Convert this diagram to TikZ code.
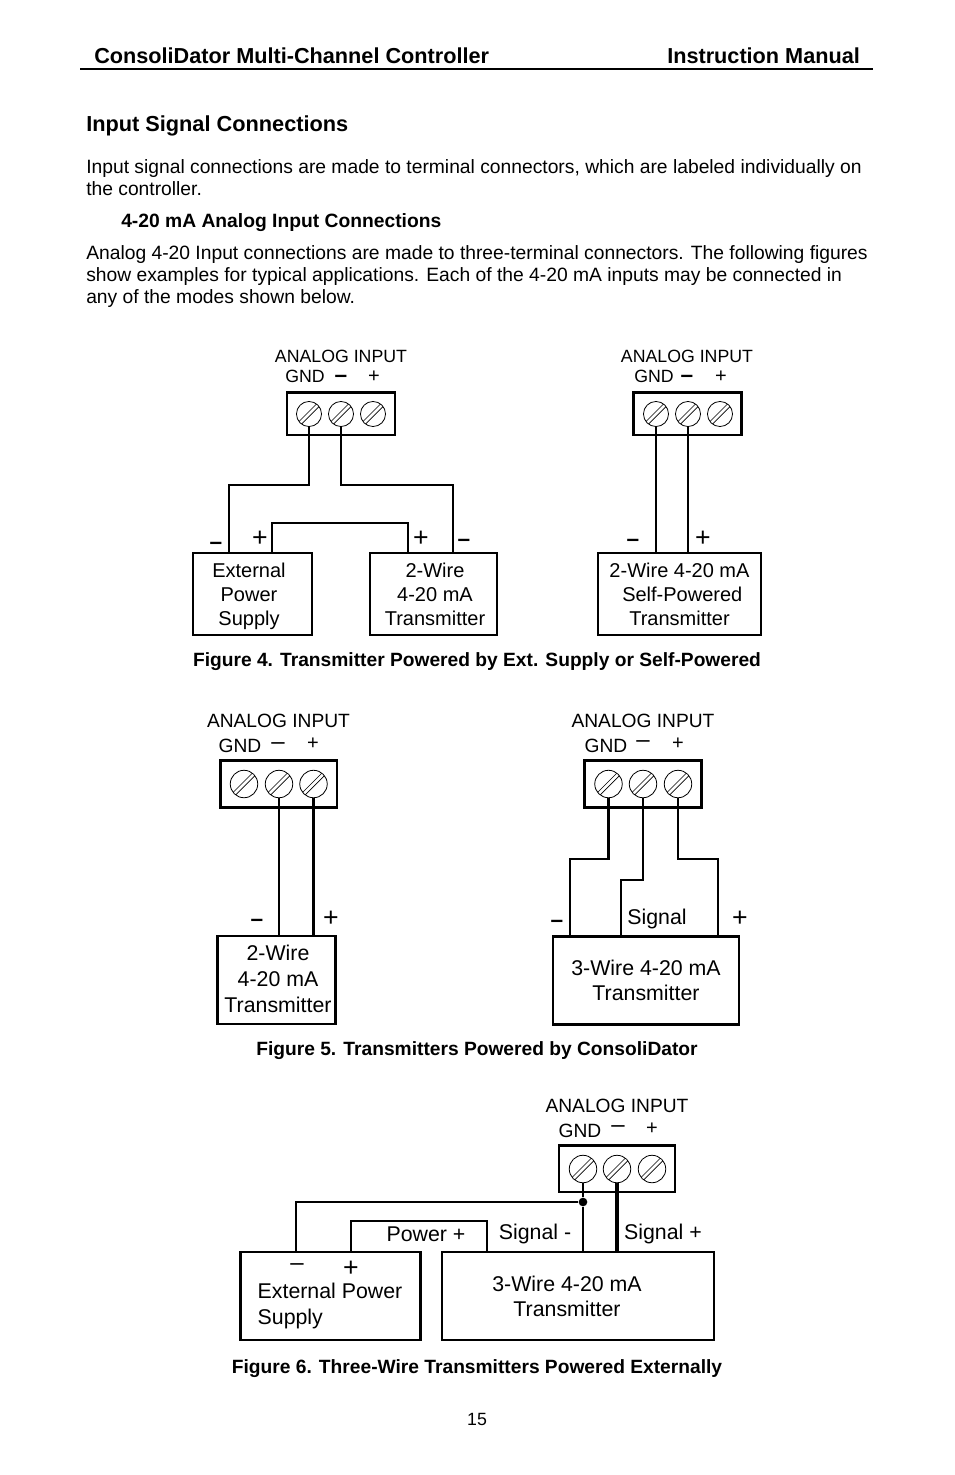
\documentclass[tikz,border=0pt]{standalone}
\usepackage{fontspec}
\setmainfont{Liberation Sans}
\usetikzlibrary{positioning}
\tikzstyle{head} = [anchor=base west, inner sep=0, font=\bfseries\fontsize{16.3}{20}\selectfont]
\tikzstyle{title} = [anchor=base west, inner sep=0, font=\bfseries\fontsize{16.25}{20}\selectfont]
\tikzstyle{sub} = [anchor=base west, inner sep=0, font=\bfseries\fontsize{14.45}{17}\selectfont]
\tikzstyle{body} = [anchor=base west, inner sep=0, font=\fontsize{14.45}{17}\selectfont]
\tikzstyle{caption} = [anchor=base, inner sep=0, font=\bfseries\fontsize{14.4}{17}\selectfont]
\tikzstyle{lab} = [inner sep=0, font=\fontsize{13.3}{16}\selectfont]
\tikzstyle{labb} = [inner sep=0, font=\fontsize{14.4}{18}\selectfont]
\tikzstyle{labc} = [inner sep=0, font=\fontsize{16}{19}\selectfont]
\tikzstyle{sign} = [inner sep=0, font=\fontsize{15}{16}\selectfont]
\tikzstyle{signb} = [inner sep=0, font=\fontsize{20}{22}\selectfont]
\tikzstyle{minus} = [inner sep=0, font=\bfseries\fontsize{17}{18}\selectfont]
\tikzstyle{minusb} = [inner sep=0, font=\fontsize{18}{20}\selectfont]
\tikzstyle{unit} = [draw, line width=1.5pt, inner sep=0, align=center, font=\fontsize{15}{18}\selectfont]
\tikzstyle{unitb} = [unit, line width=2.2pt, font=\fontsize{16}{19}\selectfont]
\tikzstyle{block} = [draw, line width=2pt, inner sep=0]
\tikzstyle{wire} = [line width=1.7pt]
\tikzstyle{thickwire} = [line width=2.3pt]
\tikzstyle{screw} = [circle, draw, line width=.6pt, inner sep=0, minimum size=18.8pt, fill=white,
  path picture={\draw[line width=.5pt, shift={(path picture bounding box.center)}]
    (-12pt,-10.1pt) -- (12pt,13.9pt) (-12pt,-13.9pt) -- (12pt,10.1pt);}]
\tikzstyle{screwb} = [screw, minimum size=20.6pt]
\tikzstyle{dot} = [circle, fill, inner sep=0, minimum size=6.5pt]

\begin{document}
\begin{tikzpicture}[x=.75pt, y=-.75pt]
  \useasboundingbox (0,0) rectangle (954,1475);

  % page text
  \node[title] (manual) at (94,63) {ConsoliDator Multi-Channel Controller};
  \node[title] (instr) at (667,63) {Instruction Manual};
  \coordinate (ruleL) at (80,69);
  \coordinate (ruleR) at (873,69);
  \draw[line width=1.4pt] (ruleL) -- (ruleR);
  \node[head] (sec) at (86,131) {Input Signal Connections};
  \node[body] (p1) at (86,173) {Input signal connections are made to terminal connectors, which are labeled individually on};
  \node[body] (p2) at (86,195) {the controller.};
  \node[sub] (subsec) at (121,227) {4-20 mA Analog Input Connections};
  \node[body] (p3) at (86,259) {Analog 4-20 Input connections are made to three-terminal connectors. The following figures};
  \node[body] (p4) at (86,281) {show examples for typical applications. Each of the 4-20 mA inputs may be connected in};
  \node[body] (p5) at (86,303) {any of the modes shown below.};

  % Fig 4 left
  \node[lab] (aiA) at (341,356) {ANALOG INPUT};
  \node[lab] (gndA) at (305,376) {GND};
  \node[minus] (negA) at (341,379) {–};
  \node[sign] (posA) at (374,377) {+};
  \node[block, minimum width=81pt, minimum height=32pt] (termA) at (341,413.5) {};
  \node[screw] (a1) at (309,414) {};
  \node[screw] (a2) at (341,414) {};
  \node[screw] (a3) at (373,414) {};
  \node[unit, minimum width=89pt, minimum height=61.5pt] (ext) at (252.5,594) {};
  \node[unit, draw=none] (extTxt) at (249,596) {External\\Power\\Supply};
  \node[unit, minimum width=95pt, minimum height=61.5pt] (twoA) at (433.5,594) {};
  \node[unit, draw=none] (twoATxt) at (435,594) {2-Wire\\4-20 mA\\Transmitter};
  \coordinate (extN) at (229,553);
  \coordinate (extP) at (272,553);
  \coordinate (twoP) at (408,553);
  \coordinate (twoN) at (453,553);
  \draw[wire] (a1.south) -- (309,485) -- (229,485) -- (extN);
  \draw[wire] (a2.south) -- (341,485) -- (453,485) -- (twoN);
  \draw[wire] (extP) -- (272,523) -- (408,523) -- (twoP);
  \node[minus] (mA) at (216,546) {–};
  \node[signb] (pA) at (260,539) {+};
  \node[signb] (pB) at (421,539) {+};
  \node[minus] (mB) at (464,543) {–};

  % Fig 4 right
  \node[lab] (aiB) at (687,356) {ANALOG INPUT};
  \node[lab] (gndB) at (654,376) {GND};
  \node[minus] (negB) at (687,379) {–};
  \node[sign] (posB) at (721,377) {+};
  \node[block, minimum width=81pt, minimum height=32pt] (termB) at (687.5,413.5) {};
  \node[screw] (b1) at (656,414) {};
  \node[screw] (b2) at (688,414) {};
  \node[screw] (b3) at (720,414) {};
  \node[unit, minimum width=122pt, minimum height=61.5pt] (self) at (679.5,594) {2-Wire 4-20 mA\\ \ Self-Powered\\Transmitter};
  \coordinate (selfN) at (656,553);
  \coordinate (selfP) at (688,553);
  \draw[wire] (b1.south) -- (selfN);
  \draw[wire] (b2.south) -- (selfP);
  \node[minus] (mC) at (633,543) {–};
  \node[signb] (pC) at (703,539) {+};

  \node[caption] (fig4) at (477,666) {Figure 4. Transmitter Powered by Ext. Supply or Self-Powered};

  % Fig 5 left
  \node[labb] (aiC) at (278.5,721) {ANALOG INPUT};
  \node[labb] (gndC) at (240,746) {GND};
  \node[minusb] (negC) at (278,746) {–};
  \node[sign] (posC) at (313,744) {+};
  \node[block, minimum width=87.5pt, minimum height=35pt] (termC) at (278.5,784) {};
  \node[screwb] (c1) at (244,784) {};
  \node[screwb] (c2) at (279,784) {};
  \node[screwb] (c3) at (313.5,784) {};
  \node[unitb, minimum width=89pt, minimum height=66pt] (twoB) at (276.5,980) {};
  \node[unitb, draw=none, font=\fontsize{16}{19.5}\selectfont] (twoBTxt) at (278,979) {2-Wire\\4-20 mA\\Transmitter};
  \coordinate (twoBN) at (279,936);
  \coordinate (twoBP) at (313.5,936);
  \draw[wire] (c2.south) -- (twoBN);
  \draw[wire] (c3.south) -- (twoBP);
  \node[minus] (mD) at (257,923) {–};
  \node[signb] (pD) at (331,919) {+};

  % Fig 5 right
  \node[labb] (aiD) at (643,721) {ANALOG INPUT};
  \node[labb] (gndD) at (606,746) {GND};
  \node[minusb] (negD) at (643,744) {–};
  \node[sign] (posD) at (678,744) {+};
  \node[block, minimum width=87.5pt, minimum height=35pt] (termD) at (643,784) {};
  \node[screwb] (d1) at (608.5,784) {};
  \node[screwb] (d2) at (643,784) {};
  \node[screwb] (d3) at (678,784) {};
  \node[unitb, minimum width=139.5pt, minimum height=66pt] (three) at (646,980.5) {3-Wire 4-20 mA\\Transmitter};
  \coordinate (threeN) at (570,936);
  \coordinate (threeS) at (621,936);
  \coordinate (threeP) at (718,936);
  \draw[wire] (d1.south) -- (608.5,859) -- (570,859) -- (threeN);
  \draw[wire] (d2.south) -- (643,880) -- (621,880) -- (threeS);
  \draw[wire] (d3.south) -- (678,859) -- (718,859) -- (threeP);
  \node[minus] (mE) at (557,924) {–};
  \node[labc] (sig) at (657,919) {Signal};
  \node[signb] (pE) at (740,919) {+};

  \node[caption] (fig5) at (477,1055) {Figure 5. Transmitters Powered by ConsoliDator};

  % Fig 6
  \node[labb] (aiE) at (617,1106) {ANALOG INPUT};
  \node[labb] (gndE) at (580,1131) {GND};
  \node[minusb] (negE) at (618,1129) {–};
  \node[sign] (posE) at (652,1129) {+};
  \node[block, minimum width=87pt, minimum height=35pt] (termE) at (617,1168.5) {};
  \node[screwb] (e1) at (583,1169) {};
  \node[screwb] (e2) at (617,1169) {};
  \node[screwb] (e3) at (652,1169) {};
  \node[unitb, minimum width=135.5pt, minimum height=66pt] (supply) at (330.5,1296) {};
  \node[unitb, minimum width=204pt, minimum height=66pt] (threeE) at (578,1296) {};
  \node[unitb, draw=none, align=left] (supplyTxt) at (330,1306) {External Power\\Supply};
  \node[unitb, draw=none] (threeTxt) at (567,1296.5) {3-Wire 4-20 mA\\Transmitter};
  \coordinate (supN) at (296,1252);
  \coordinate (supP) at (351,1252);
  \coordinate (threeR) at (487,1252);
  \coordinate (threeM) at (583,1252);
  \coordinate (threeQ) at (617,1252);
  \node[dot] (junc) at (583,1202) {};
  \draw[wire] (e1.south) -- (junc) -- (threeM);
  \draw[wire] (junc) -- (296,1202) -- (supN);
  \draw[wire] (supP) -- (351,1221) -- (487,1221) -- (threeR);
  \draw[thickwire] (e2.south) -- (threeQ);
  \node[labc] (pow) at (426,1234.5) {Power +};
  \node[labc] (sigN) at (535,1234) {Signal -};
  \node[labc] (sigP) at (663,1234) {Signal +};
  \node[minusb] (mF) at (297,1267) {–};
  \node[signb] (pF) at (351,1269) {+};

  \node[caption] (fig6) at (477,1373) {Figure 6. Three-Wire Transmitters Powered Externally};
  \node[anchor=base, inner sep=0, font=\fontsize{13.3}{16}\selectfont] (pageno) at (477,1425) {15};
\end{tikzpicture}
\end{document}
